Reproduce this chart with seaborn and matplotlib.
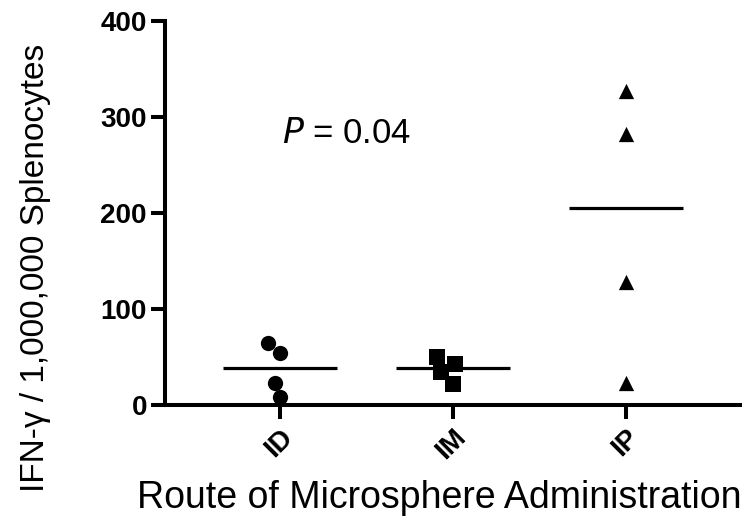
import matplotlib
matplotlib.use("Agg")
import matplotlib.pyplot as plt
import matplotlib.transforms as mtransforms
import seaborn as sns
import pandas as pd
import numpy as np

categories = ["ID", "IM", "IP"]
id_values = [65, 54, 23, 8]
im_values = [43, 50, 34, 22]
ip_values = [327, 282, 128, 23]
markers = ["o", "s", "^"]
y_ticks = [0, 100, 200, 300, 400]

df = pd.DataFrame({
    "route": ["ID"] * len(id_values) + ["IM"] * len(im_values) + ["IP"] * len(ip_values),
    "value": id_values + im_values + ip_values,
})

sns.set_theme(style="ticks")
plt.rcParams["font.family"] = ["Liberation Sans", "DejaVu Sans"]
plt.rcParams["text.color"] = "black"
plt.rcParams["axes.labelcolor"] = "black"

fig = plt.figure(figsize=(7.48, 5.24), dpi=100)
ax = fig.add_axes([0.2206, 0.2271, 0.7684, 0.7334])

for cat, mk in zip(categories, markers):
    sub = df[df["route"] == cat]
    sns.swarmplot(data=sub, x="route", y="value", order=categories, marker=mk,
                  color="black", size=11 if mk != "s" else 11.5, linewidth=0, ax=ax)

sns.boxplot(data=df, x="route", y="value", order=categories, width=0.66,
            showbox=False, showcaps=False, showfliers=False, whis=0,
            whiskerprops={"visible": False},
            medianprops={"color": "black", "linewidth": 2.3},
            ax=ax)

ax.set_xlim(-0.665, 2.66)
ax.set_ylim(0, 400)
ax.set_yticks(y_ticks)
ax.set_yticklabels([str(t) for t in y_ticks], fontsize=20, fontweight="bold")
ax.set_xticks(range(len(categories)))
ax.set_xticklabels(categories, fontsize=20, fontweight="bold", rotation=45,
                   ha="right", rotation_mode="anchor")
shift = mtransforms.ScaledTranslation(-5 / 100, -2 / 100, fig.dpi_scale_trans)
for lbl in ax.get_xticklabels():
    lbl.set_transform(lbl.get_transform() + shift)

for s in ["top", "right"]:
    ax.spines[s].set_visible(False)
for s in ["left", "bottom"]:
    ax.spines[s].set_linewidth(2.9)
    ax.spines[s].set_color("black")
ax.tick_params(axis="both", width=2.9, length=10, color="black", labelcolor="black")
ax.tick_params(axis="y", pad=3)
ax.tick_params(axis="x", pad=4)

ax.set_ylabel("IFN-\u03b3 / 1,000,000 Splenocytes", fontsize=24, va="center")
ax.yaxis.set_label_coords(-0.226, 0.357)
ax.set_xlabel("Route of Microsphere Administration", fontsize=27, va="center")
ax.xaxis.set_label_coords(0.478, -0.242)

ax.text(0.387, 283, "$\\it{P}$ = 0.04", fontsize=25, ha="center", va="center")

fig.savefig("out.png", dpi=100)
